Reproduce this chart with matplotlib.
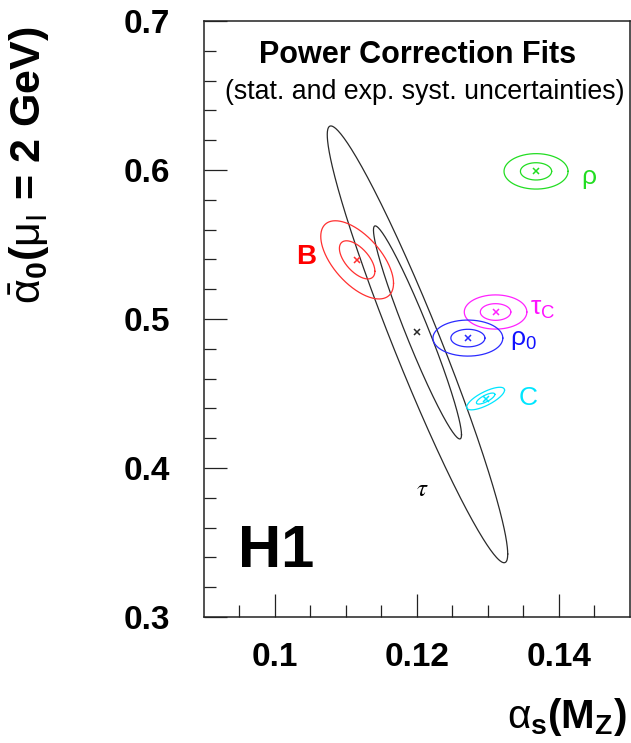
import numpy as np
import matplotlib.pyplot as plt

plt.rcParams['font.family'] = ['Liberation Sans', 'DejaVu Sans']
plt.rcParams['mathtext.fontset'] = 'custom'
plt.rcParams['mathtext.rm'] = 'Liberation Sans'
plt.rcParams['mathtext.it'] = 'Liberation Sans:italic'
plt.rcParams['mathtext.bf'] = 'Liberation Sans:bold'
plt.rcParams['mathtext.sf'] = 'Liberation Sans'

# fit results: alpha_s(MZ), alpha_0, their errors and correlation
fits = ["tau", "B", "rho", "tauC", "rho0", "C"]
as_val = [0.1201, 0.1116, 0.1368, 0.1311, 0.1272, 0.1297]
a0_val = [0.491, 0.5397, 0.5991, 0.5047, 0.4872, 0.4466]
as_err = [0.0062, 0.0025, 0.0022, 0.00215, 0.0024, 0.0013]
a0_err = [0.0715, 0.0128, 0.0058, 0.0056, 0.0059, 0.0037]
corr = [-0.96, -0.6, 0.0, 0.0, 0.0, 0.75]
# outer contour of tau is not centred on the fit value
a0_outer_shift = [-0.008, 0.0, 0.0, 0.0, 0.0, 0.0]
colors = ["#2a2a2a", "#ff3030", "#22dd22", "#ff22ff", "#2a2aff", "#00e6ff"]
contour_scale = [1.0, 2.05]

# labels next to the fits
labels = ["$\\tau$", "B", "$\\mathrm{\\rho}$", "$\\mathrm{\\tau}_{\\mathrm{C}}$",
          "$\\mathrm{\\rho}_{\\mathrm{0}}$", "C"]
label_x = [0.1199, 0.1030, 0.1432, 0.1359, 0.1332, 0.1344]
label_y = [0.3813, 0.5372, 0.5907, 0.5029, 0.4826, 0.4426]
label_colors = ["black", "#ff0000", "#22dd22", "#ff11ff", "#1111ff", "#00e6ff"]

fig = plt.figure(figsize=(6.31, 7.43), dpi=100)
ax = fig.add_axes([0.323, 0.1696, 0.675, 0.8021])

t = np.linspace(0, 2 * np.pi, 400)
for i in range(len(fits)):
    for j, k in enumerate(contour_scale):
        cy = a0_val[i] + (a0_outer_shift[i] if j == 1 else 0.0)
        x = as_val[i] + k * as_err[i] * np.cos(t)
        y = cy + k * a0_err[i] * (corr[i] * np.cos(t) + np.sqrt(1 - corr[i] ** 2) * np.sin(t))
        ax.plot(x, y, color=colors[i], lw=0.9)
    ax.plot(as_val[i], a0_val[i], marker='x', color=colors[i], ms=5, mew=1.1, ls='none')

for i in range(len(fits)):
    if fits[i] == "tau":
        ax.text(label_x[i], label_y[i], labels[i], color=label_colors[i], fontsize=18,
                math_fontfamily='stix', ha='left', va='baseline')
    elif fits[i] == "B":
        ax.text(label_x[i], label_y[i], labels[i], color=label_colors[i], fontsize=20,
                fontweight='bold', ha='left', va='baseline')
    else:
        ax.text(label_x[i], label_y[i], labels[i], color=label_colors[i], fontsize=19,
                ha='left', va='baseline')

ax.text(0.0948, 0.3338, "H1", fontsize=43, fontweight='bold', ha='left', va='baseline')
ax.text(0.501, 0.930, "Power Correction Fits", transform=ax.transAxes, fontsize=22,
        fontweight='bold', ha='center', va='baseline')
ax.text(0.519, 0.8686, "(stat. and exp. syst. uncertainties)", transform=ax.transAxes,
        fontsize=19.3, ha='center', va='baseline')

ax.set_xlim(0.09, 0.15)
ax.set_ylim(0.3, 0.7)
ax.set_xticks([0.1, 0.12, 0.14])
ax.set_xticklabels(["0.1", "0.12", "0.14"])
ax.set_xticks(np.arange(0.095, 0.15, 0.005), minor=True)
ax.set_yticks([0.3, 0.4, 0.5, 0.6, 0.7])
ax.set_yticklabels(["0.3", "0.4", "0.5", "0.6", "0.7"])
ax.set_yticks(np.arange(0.32, 0.7, 0.02), minor=True)
ax.tick_params(which='both', direction='in', top=False, right=False, width=0.9, color='#222222')
ax.tick_params(which='major', length=16.5, labelsize=24)
ax.tick_params(which='minor', length=8.5)
ax.tick_params(axis='x', which='major', pad=18)
ax.tick_params(axis='y', which='major', pad=24)
for lab in ax.get_xticklabels() + ax.get_yticklabels():
    lab.set_fontweight('bold')
for sp in ax.spines.values():
    sp.set_linewidth(1.1)
    sp.set_color('#222222')

fig.text(627 / 631, 1 - 728 / 743, "$\\mathrm{\\alpha}_{\\mathbf{s}}$(M$_{\\mathbf{Z}}$)", fontsize=29,
         fontweight='bold', ha='right', va='baseline')
fig.text(0.0475, 0.778, "$\\bar{\\mathrm{\\alpha}}_{\\mathbf{0}}$($\\mathrm{\\mu}_{\\mathrm{I}}$ = 2 GeV)",
         fontsize=31, fontweight='bold', rotation=90, ha='center', va='center')

fig.savefig("out.png", dpi=100)
